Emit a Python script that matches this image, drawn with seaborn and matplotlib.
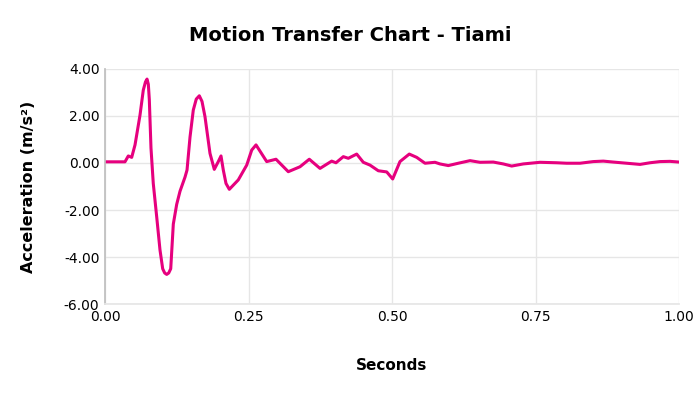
import matplotlib
matplotlib.use('Agg')
import matplotlib.pyplot as plt
import seaborn as sns
import pandas as pd

# ── Data ──────────────────────────────────────────────────────────────────
seconds = [0.000, 0.0174, 0.0348, 0.0406, 0.0465, 0.0523, 0.0610, 0.0667,
           0.0705, 0.0732, 0.0755, 0.0772, 0.0801, 0.0841, 0.0901, 0.0958,
           0.1005, 0.1040, 0.1075, 0.1110, 0.1145, 0.1190, 0.1249, 0.1307,
           0.1394, 0.1429, 0.1481, 0.1538, 0.1590, 0.1643, 0.1690, 0.1742,
           0.1829, 0.1904, 0.1974, 0.2021, 0.2061, 0.2108, 0.2166, 0.2322,
           0.2469, 0.2556, 0.2631, 0.2817, 0.2979, 0.3193, 0.3397, 0.3559,
           0.3746, 0.3949, 0.4024, 0.4152, 0.4239, 0.4385, 0.4500, 0.4617,
           0.4761, 0.4908, 0.5012, 0.5139, 0.5301, 0.5430, 0.5575, 0.5749,
           0.5836, 0.5981, 0.6155, 0.6359, 0.6533, 0.6765, 0.6939, 0.7085,
           0.7287, 0.7578, 0.7869, 0.8043, 0.8275, 0.8507, 0.8681, 0.8855,
           0.9089, 0.9321, 0.9495, 0.9669, 0.9843, 1.0000]
accel = [0.05, 0.05, 0.05, 0.30, 0.24, 0.77, 2.04, 3.10,
         3.45, 3.57, 3.35, 2.70, 0.64, -0.87, -2.30, -3.70,
         -4.50, -4.68, -4.74, -4.68, -4.50, -2.60, -1.76, -1.20,
         -0.60, -0.30, 1.10, 2.25, 2.72, 2.86, 2.62, 1.97,
         0.41, -0.27, 0.06, 0.30, -0.30, -0.87, -1.12, -0.72,
         -0.09, 0.55, 0.77, 0.06, 0.16, -0.37, -0.16, 0.16,
         -0.23, 0.08, 0.01, 0.27, 0.20, 0.38, 0.03, -0.09,
         -0.33, -0.38, -0.68, 0.06, 0.38, 0.24, -0.01, 0.03,
         -0.04, -0.11, -0.01, 0.10, 0.03, 0.04, -0.04, -0.13,
         -0.04, 0.03, 0.01, -0.01, -0.01, 0.06, 0.08, 0.04,
         -0.01, -0.06, 0.01, 0.06, 0.07, 0.04]
x_ticks = [0.0, 0.25, 0.5, 0.75, 1.0]
y_ticks = [-6, -4, -2, 0, 2, 4]

df = pd.DataFrame({'Seconds': seconds, 'Acceleration': accel})

sns.set_theme(style='whitegrid')
plt.rcParams['font.family'] = ['DejaVu Sans']
plt.rcParams['text.color'] = 'black'
plt.rcParams['axes.labelcolor'] = 'black'

fig = plt.figure(figsize=(7, 3.94), dpi=100)
ax = fig.add_axes([0.15, 0.2284, 0.82, 0.5965])

sns.lineplot(data=df, x='Seconds', y='Acceleration', ax=ax,
             color='#e6007e', linewidth=2.2)

ax.set_xlim(0, 1)
ax.set_ylim(-6, 4)
ax.set_xticks(x_ticks)
ax.set_yticks(y_ticks)
ax.set_xticklabels([f'{v:.2f}' for v in x_ticks], fontsize=10)
ax.set_yticklabels([f'{v:.2f}' for v in y_ticks], fontsize=10)
ax.tick_params(axis='both', length=0, pad=4, colors='black')

ax.grid(True, color='#e6e6e6', linewidth=1)
for side in ('top', 'right'):
    ax.spines[side].set_visible(False)
ax.spines['left'].set_color('#bfbfbf')
ax.spines['bottom'].set_color('#e6e6e6')

ax.set_xlabel('Seconds', fontsize=11, fontweight='bold', labelpad=25)
ax.set_ylabel('Acceleration (m/s²)', fontsize=11.5, fontweight='bold', labelpad=20)
fig.text(0.5, 0.91, 'Motion Transfer Chart - Tiami', ha='center', va='center',
         fontsize=14, fontweight='bold', color='black')

fig.savefig('out.png', dpi=100)
